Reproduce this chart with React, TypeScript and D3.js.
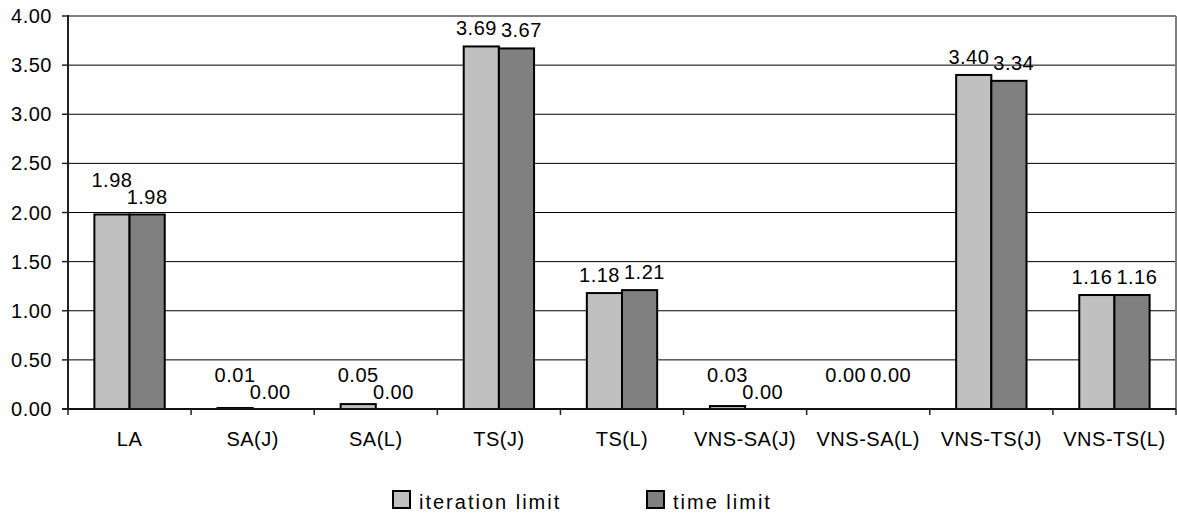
import React from "react";
import * as d3 from "d3";

const categories = ["LA", "SA(J)", "SA(L)", "TS(J)", "TS(L)", "VNS-SA(J)", "VNS-SA(L)", "VNS-TS(J)", "VNS-TS(L)"];
const iterationLimit = [1.98, 0.01, 0.05, 3.69, 1.18, 0.03, 0.0, 3.4, 1.16];
const timeLimit = [1.98, 0.0, 0.0, 3.67, 1.21, 0.0, 0.0, 3.34, 1.16];
const seriesNames = ["iteration limit", "time limit"];
const seriesColors = ["#C0C0C0", "#808080"];
const yTickValues = [0, 0.5, 1, 1.5, 2, 2.5, 3, 3.5, 4];
// how overlapping value labels were resolved in the original: stacked vertically or spread sideways
const labelModes = ["stack", "stack", "stack", "spread", "spread", "stack", "spreadHigh", "spread", "spread"];

const W = 1177;
const H = 515;
const plot = { left: 68, right: 1176, top: 16, bottom: 409 };
const FONT = "'Liberation Sans', Arial, sans-serif";
const FS = 20;
const LS = 0.5;

function textWidth(s: string) {
  let w = 0;
  for (const ch of s) w += (ch === "." ? 0.278 : 0.556) * FS + LS;
  return w;
}

export default function App() {
  const x = d3.scaleBand<string>().domain(categories).range([plot.left, plot.right]).paddingInner(0).paddingOuter(0);
  const inner = d3.scaleBand<string>().domain(seriesNames).range([0, x.bandwidth()]).paddingInner(0).paddingOuter(0.75);
  const y = d3.scaleLinear().domain([0, 4]).range([plot.bottom, plot.top]);
  const fmt = d3.format(".2f");
  const series = [iterationLimit, timeLimit];

  const labels: { x: number; y: number; t: string }[] = [];
  categories.forEach((c, i) => {
    const x0 = x(c)!;
    const cxL = x0 + inner(seriesNames[0])! + inner.bandwidth() / 2;
    const cxD = x0 + inner(seriesNames[1])! + inner.bandwidth() / 2;
    const tL = fmt(iterationLimit[i]);
    const tD = fmt(timeLimit[i]);
    const topL = y(iterationLimit[i]);
    const topD = y(timeLimit[i]);
    if (labelModes[i] === "stack") {
      const bD = topD - 10.5;
      const bL = Math.min(topL - 10.5, bD - 16.5);
      labels.push({ x: cxL, y: bL, t: tL }, { x: cxD, y: bD, t: tD });
    } else {
      const wL = textWidth(tL);
      const wD = textWidth(tD);
      const overlap = cxL + wL / 2 - (cxD - wD / 2) + 4;
      const s = overlap > 0 ? overlap / 2 : 0;
      const lift = labelModes[i] === "spreadHigh" ? 16.5 : 0;
      labels.push({ x: cxL - s, y: topL - 11 - lift, t: tL }, { x: cxD + s, y: topD - 11 - lift, t: tD });
    }
  });

  return (
    <svg width={W} height={H} style={{ position: "absolute", left: 0, top: 0, background: "#fff" }} fontFamily={FONT}>
      {/* gridlines */}
      {yTickValues.filter((v) => v > 0 && v < 4).map((v) => (
        <line key={"g" + v} x1={plot.left} x2={plot.right} y1={y(v)} y2={y(v)} stroke="#000" strokeWidth={1} />
      ))}
      {/* plot border top/right */}
      <line x1={plot.left} x2={plot.right} y1={y(4)} y2={y(4)} stroke="#808080" strokeWidth={2} />
      <line x1={plot.right} x2={plot.right} y1={plot.top} y2={plot.bottom} stroke="#808080" strokeWidth={2} />
      {/* bars */}
      {categories.map((c, i) =>
        series.map((vals, s) => {
          const bx = x(c)! + inner(seriesNames[s])!;
          const by = y(vals[i]);
          return (
            <rect key={c + s} x={bx} y={by} width={inner.bandwidth()} height={Math.max(0, y(0) - by)}
              fill={seriesColors[s]} stroke="#000" strokeWidth={2} />
          );
        })
      )}
      {/* axes */}
      <line x1={plot.left} x2={plot.left} y1={plot.top - 1} y2={plot.bottom} stroke="#222" strokeWidth={2} />
      <line x1={plot.left - 6} x2={plot.right} y1={plot.bottom} y2={plot.bottom} stroke="#111" strokeWidth={2} />
      {yTickValues.map((v) => (
        <g key={"t" + v}>
          <line x1={plot.left - 6} x2={plot.left} y1={y(v)} y2={y(v)} stroke="#222" strokeWidth={1.5} />
          <text x={52} y={y(v) + 7} textAnchor="end" fontSize={FS} letterSpacing={LS} fill="#000">{fmt(v)}</text>
        </g>
      ))}
      {d3.range(categories.length + 1).map((k) => {
        const xx = plot.left + k * x.step();
        return <line key={"ct" + k} x1={xx} x2={xx} y1={plot.bottom} y2={plot.bottom + 6} stroke="#222" strokeWidth={1.5} />;
      })}
      {categories.map((c) => (
        <text key={"cl" + c} x={x(c)! + x.bandwidth() / 2} y={446} textAnchor="middle" fontSize={FS} letterSpacing={LS} fill="#000">{c}</text>
      ))}
      {/* value labels */}
      {labels.map((l, k) => (
        <text key={"vl" + k} x={l.x} y={l.y} textAnchor="middle" fontSize={FS} letterSpacing={LS} fill="#000">{l.t}</text>
      ))}
      {/* legend */}
      {seriesNames.map((n, s) => {
        const lx = s === 0 ? 393 : 647;
        return (
          <g key={"lg" + n}>
            <rect x={lx} y={491} width={17} height={17} fill={seriesColors[s]} stroke="#000" strokeWidth={2} />
            <text x={lx + 26} y={509} fontSize={FS} letterSpacing={2} fill="#000">{n}</text>
          </g>
        );
      })}
    </svg>
  );
}
